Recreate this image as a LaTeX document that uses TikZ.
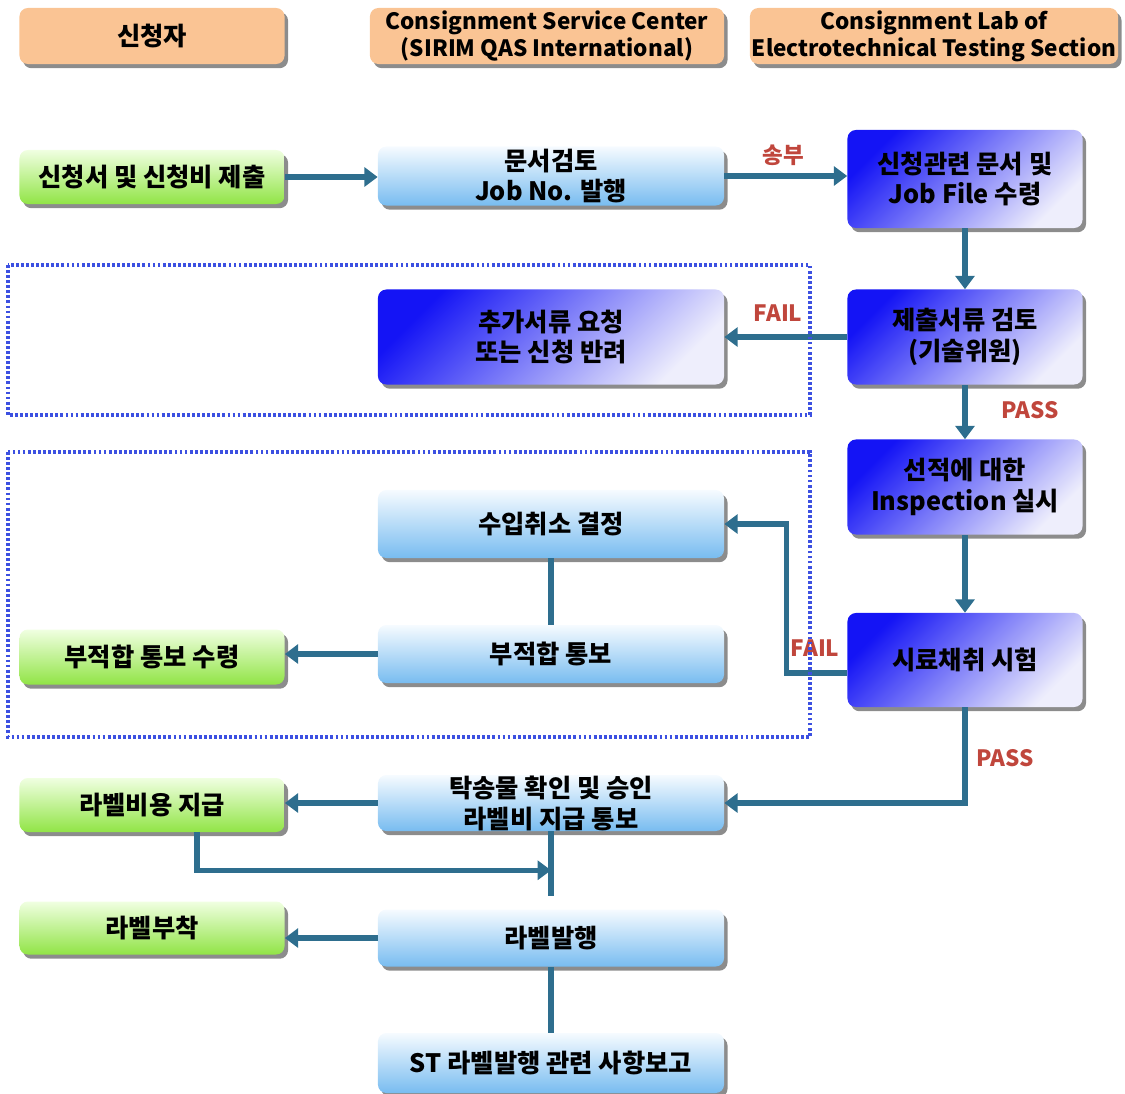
\documentclass[tikz,border=0pt]{standalone}
\usepackage{fontspec}
\setmainfont{Noto Sans CJK KR}
\usetikzlibrary{arrows.meta, calc, shadows, positioning}
\definecolor{flowline}{RGB}{46,110,142}
\definecolor{peach}{RGB}{250,196,148}
\definecolor{grtop}{RGB}{240,255,225}
\definecolor{grbot}{RGB}{145,228,70}
\definecolor{lbtop}{RGB}{246,251,255}
\definecolor{lbbot}{RGB}{120,188,240}
\definecolor{dktop}{RGB}{20,20,245}
\definecolor{dkmid}{RGB}{120,120,240}
\definecolor{dkbot}{RGB}{238,238,252}
\definecolor{failred}{RGB}{192,70,60}
\definecolor{zoneblue}{RGB}{60,80,225}

\begin{document}
\begin{tikzpicture}[x=0.025cm, y=-0.025cm,
        nodes={align=center, inner sep=0pt, font=\fontsize{18}{22}\selectfont\bfseries},
        box_style/.style={rectangle, rounded corners=6pt,
          drop shadow={shadow xshift=2.5pt, shadow yshift=-3pt, fill=black!60, opacity=0.75}},
        head_style/.style={box_style, fill=peach, minimum height=1.4cm,
          font=\fontsize{16}{19}\selectfont\bfseries},
        green_style/.style={box_style, top color=grtop, bottom color=grbot, minimum width=6.625cm},
        light_style/.style={box_style, top color=lbtop, bottom color=lbbot, minimum width=8.65cm},
        dark_style/.style={box_style, top color=dktop, middle color=dkmid, bottom color=dkbot,
          shading angle=45},
        flow/.style={draw=flowline, line width=3.6pt, -{Triangle[length=9.5pt, width=13.5pt]}},
        plain_flow/.style={draw=flowline, line width=3.6pt},
        lbl_style/.style={text=failred, font=\fontsize{16}{19}\selectfont\bfseries},
        zone_style/.style={draw=zoneblue, line width=2.6pt, dash pattern=on 2pt off 1.6pt}]

      \useasboundingbox (0,0) rectangle (1125,1093);

      % column headings
      \node[head_style, minimum width=6.625cm] (applicant_hd) at (152,36) {\fontsize{18}{22}\selectfont 신청자};
      \node[head_style, minimum width=8.85cm] (center_hd) at (547,36) {Consignment Service Center\\(SIRIM QAS International)};
      \node[head_style, minimum width=9.2cm] (lab_hd) at (934,36) {Consignment Lab of\\Electrotechnical Testing Section};

      % boxes
      \node[green_style, minimum height=1.35cm] (submit) at (152,177) {신청서 및 신청비 제출};
      \node[light_style, minimum height=1.475cm] (doc_review) at (551,176) {문서검토\\Job No. 발행};
      \node[dark_style, minimum width=5.875cm, minimum height=2.45cm] (receive) at (965,179) {신청관련 문서 및\\Job File 수령};
      \node[dark_style, minimum width=8.65cm, minimum height=2.375cm] (request) at (551,337) {추가서류 요청\\또는 신청 반려};
      \node[dark_style, minimum width=5.875cm, minimum height=2.375cm] (check) at (965,337) {제출서류 검토\\(기술위원)};
      \node[dark_style, minimum width=5.875cm, minimum height=2.375cm] (inspect) at (965,487) {선적에 대한\\Inspection 실시};
      \node[light_style, minimum height=1.7cm] (cancel) at (551,524) {수입취소 결정};
      \node[dark_style, minimum width=5.875cm, minimum height=2.35cm] (sample) at (965,660) {시료채취 시험};
      \node[light_style, minimum height=1.45cm] (notice) at (551,654) {부적합 통보};
      \node[green_style, minimum height=1.375cm] (notice_rcv) at (152,657) {부적합 통보 수령};
      \node[light_style, minimum height=1.4cm] (approve) at (551,803) {탁송물 확인 및 승인\\라벨비 지급 통보};
      \node[green_style, minimum height=1.35cm] (pay) at (152,805) {라벨비용 지급};
      \node[light_style, minimum height=1.425cm] (issue) at (551,938) {라벨발행};
      \node[green_style, minimum height=1.325cm] (attach) at (152,928) {라벨부착};
      \node[light_style, minimum height=1.5cm] (report) at (551,1063) {ST 라벨발행 관련 사항보고};

      % connectors
      \draw[flow] (submit.east) -- (submit.east -| doc_review.west);
      \draw[flow] (doc_review.east) -- (doc_review.east -| receive.west);
      \draw[flow] (receive.south) -- (check.north);
      \draw[flow] (check.west) -- (request.east);
      \draw[flow] (check.south) -- (inspect.north);
      \draw[flow] (inspect.south) -- (sample.north);
      \draw[flow] ([yshift=-0.325cm]sample.west) -- ++(-61,0) |- (cancel.east);
      \draw[plain_flow] (cancel.south) -- (notice.north);
      \draw[flow] (notice.west) -- (notice.west -| notice_rcv.east);
      \draw[flow] (sample.south) |- (approve.east);
      \draw[flow] (approve.west) -- (approve.west -| pay.east);
      \draw[flow] ([xshift=1.125cm]pay.south) |- ($(approve.south)!0.5!(issue.north)$);
      \draw[plain_flow] (approve.south) -- ([yshift=0.325cm]issue.north);
      \draw[flow] (issue.west) -- (issue.west -| attach.east);
      \draw[plain_flow] (issue.south) -- (report.north);

      % labels
      \node[lbl_style] (send_lbl) at (783,155) {송부};
      \node[lbl_style] (fail_docs) at (778,313) {FAIL};
      \node[lbl_style] (pass_docs) at (1030,410) {PASS};
      \node[lbl_style] (fail_test) at (815,648) {FAIL};
      \node[lbl_style] (pass_test) at (1005,758) {PASS};

      % dotted zones
      \draw[zone_style] (8,265) rectangle (810,415);
      \draw[zone_style] (8,452) rectangle (810,737);
    \end{tikzpicture}
\end{document}
